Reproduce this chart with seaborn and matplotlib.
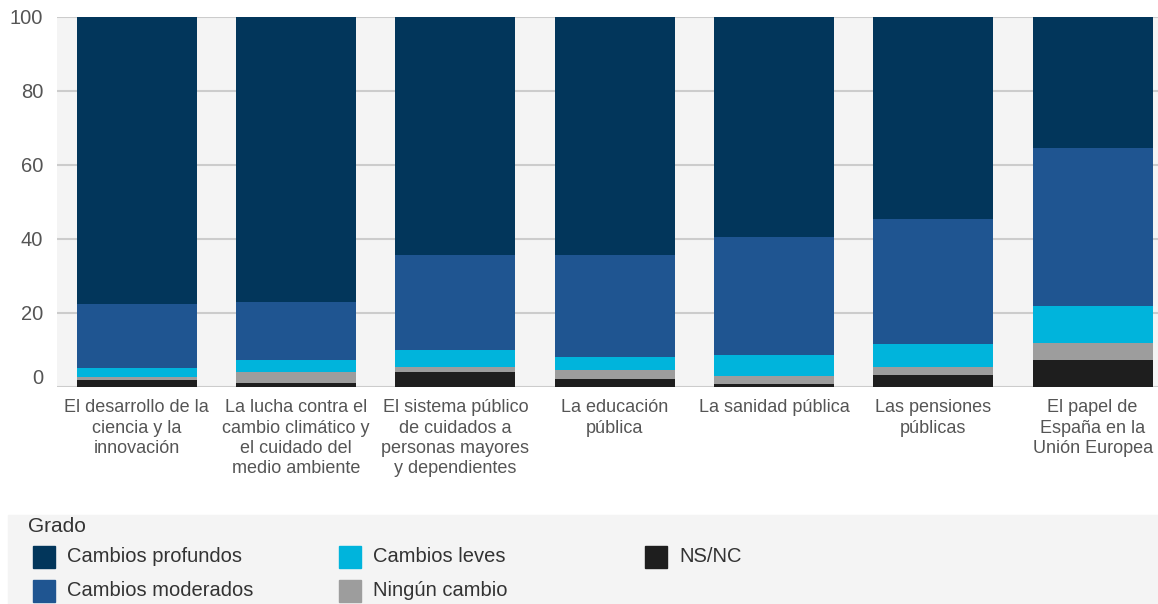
import numpy as np
import pandas as pd
import matplotlib
matplotlib.use('Agg')
import matplotlib.pyplot as plt
from matplotlib.patches import Rectangle
from matplotlib.transforms import ScaledTranslation
import seaborn as sns

categories = [
    'El desarrollo de la\nciencia y la\ninnovación',
    'La lucha contra el\ncambio climático y\nel cuidado del\nmedio ambiente',
    'El sistema público\nde cuidados a\npersonas mayores\ny dependientes',
    'La educación\npública',
    'La sanidad pública',
    'Las pensiones\npúblicas',
    'El papel de\nEspaña en la\nUnión Europea',
]

# stacked bottom -> top
ns_nc = [1.9, 1.0, 4.0, 2.2, 0.9, 3.2, 7.3]
ningun = [0.7, 3.0, 1.4, 2.4, 2.2, 2.3, 4.6]
leves = [2.5, 3.3, 4.7, 3.6, 5.5, 6.0, 10.1]
moderados = [17.3, 15.6, 25.6, 27.5, 31.9, 33.9, 42.6]
profundos = [77.6, 77.1, 64.3, 64.3, 59.5, 54.6, 35.4]

series_names = ['NS/NC', 'Ningún cambio', 'Cambios leves', 'Cambios moderados', 'Cambios profundos']
series_vals = [ns_nc, ningun, leves, moderados, profundos]
colors = {
    'Cambios profundos': '#02365b',
    'Cambios moderados': '#1f5591',
    'Cambios leves': '#00b4dc',
    'Ningún cambio': '#9d9d9d',
    'NS/NC': '#1e1e1e',
}
legend_order = ['Cambios profundos', 'Cambios moderados', 'Cambios leves', 'Ningún cambio', 'NS/NC']

sns.set_theme(style='white')
plt.rcParams['font.family'] = ['Liberation Sans', 'DejaVu Sans']
TXT = '#555555'

W, H = 1158, 604
fig = plt.figure(figsize=(W / 100, H / 100), dpi=100)
ax = fig.add_axes([57 / W, 1 - 387 / H, 1 - 57 / W, (387 - 17) / H])
ax.set_facecolor('#f4f4f4')

df = pd.DataFrame(dict(zip(series_names, series_vals)), index=categories)
cum = df.cumsum(axis=1)

# draw tallest cumulative layer first so lower segments sit on top
for name in reversed(series_names):
    sns.barplot(x=list(categories), y=cum[name].values, color=colors[name],
                saturation=1, width=0.752, errorbar=None, ax=ax, zorder=2,
                linewidth=0, edgecolor='none')

ax.set_xlim(-0.5, 6.41)
ax.set_ylim(0, 100)
ax.set_yticks(range(0, 101, 20))
ax.yaxis.grid(True, color='#cccccc', lw=1.5)
ax.xaxis.grid(False)
ax.set_axisbelow(True)
for s in ax.spines.values():
    s.set_visible(False)
ax.tick_params(axis='y', length=0, pad=10, labelsize=14.5, labelcolor=TXT)
ax.tick_params(axis='x', length=0, pad=9, labelsize=13, labelcolor=TXT)
for lab in ax.get_xticklabels():
    lab.set_linespacing(1.24)
    lab.set_ha('center')
zero = ax.get_yticklabels()[0]
zero.set_transform(zero.get_transform() + ScaledTranslation(0, 0.11, fig.dpi_scale_trans))
ax.set_xlabel('')
ax.set_ylabel('')

# legend panel
fig.patches.append(Rectangle((8 / W, 0), 1 - 8 / W, (H - 515) / H, transform=fig.transFigure,
                             color='#f4f4f4', zorder=0))
fig.text(28 / W, 1 - 526 / H, 'Grado', va='center', ha='left', fontsize=15, color='#333333')
col_x = [33, 339, 645]
row_y = [557, 591]
for i, name in enumerate(legend_order):
    x0 = col_x[i // 2]
    y0 = row_y[i % 2]
    fig.patches.append(Rectangle((x0 / W, 1 - (y0 + 11) / H), 22 / W, 22 / H,
                                 transform=fig.transFigure, color=colors[name], zorder=1))
    fig.text((x0 + 34) / W, 1 - y0 / H, name, va='center', ha='left', fontsize=14.5, color='#333333')

fig.savefig('out.png', dpi=100)
